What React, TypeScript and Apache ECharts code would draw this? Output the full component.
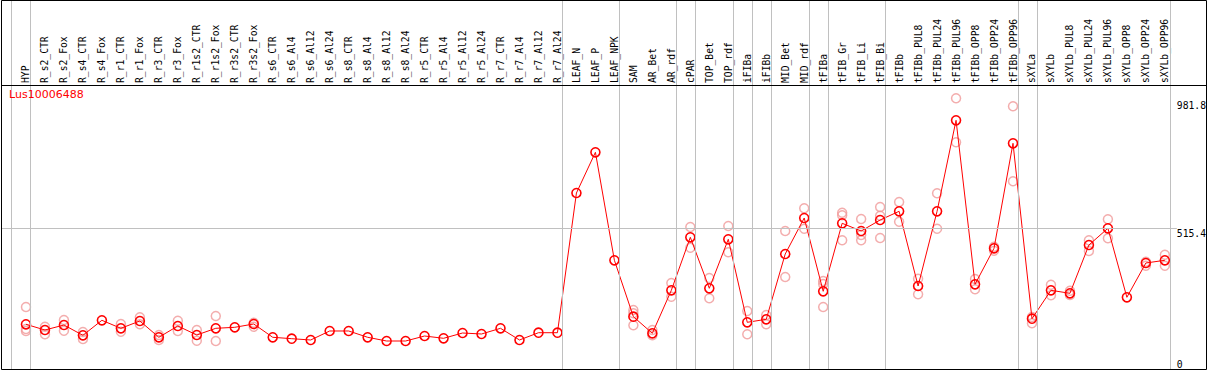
import React, { useEffect, useRef } from "react";
import * as echarts from "echarts";

const title = "Lus10006488";

const categories = [
  "HYP", "R_s2_CTR", "R_s2_Fox", "R_s4_CTR", "R_s4_Fox", "R_r1_CTR", "R_r1_Fox", "R_r3_CTR", "R_r3_Fox",
  "R_r1s2_CTR", "R_r1s2_Fox", "R_r3s2_CTR", "R_r3s2_Fox", "R_s6_CTR", "R_s6_Al4", "R_s6_Al12", "R_s6_Al24",
  "R_s8_CTR", "R_s8_Al4", "R_s8_Al12", "R_s8_Al24", "R_r5_CTR", "R_r5_Al4", "R_r5_Al12", "R_r5_Al24",
  "R_r7_CTR", "R_r7_Al4", "R_r7_Al12", "R_r7_Al24", "LEAF_N", "LEAF_P", "LEAF_NPK", "SAM", "AR_Bet", "AR_rdf",
  "cPAR", "TOP_Bet", "TOP_rdf", "iFIBa", "iFIBb", "MID_Bet", "MID_rdf", "tFIBa", "tFIB_Gr", "tFIB_Li", "tFIB_Bi",
  "tFIBb", "tFIBb_PUL8", "tFIBb_PUL24", "tFIBb_PUL96", "tFIBb_OPP8", "tFIBb_OPP24", "tFIBb_OPP96",
  "sXYLa", "sXYLb", "sXYLb_PUL8", "sXYLb_PUL24", "sXYLb_PUL96", "sXYLb_OPP8", "sXYLb_OPP24", "sXYLb_OPP96",
];

// number of categories in each separated group, left to right
const groupSizes = [1, 28, 3, 3, 1, 2, 1, 1, 2, 1, 3, 7, 1, 7];

const means = [
  163.7, 142.8, 161.1, 123.4, 178.3, 149.0, 175.8, 116.1, 157.5, 124.5, 149.0, 152.7, 164.8, 116.1, 111.0,
  106.2, 139.2, 139.2, 116.1, 102.5, 102.5, 120.8, 112.4, 131.8, 128.2, 149.0, 106.2, 132.9, 132.9,
  644.5, 793.6, 398.1, 191.5, 130.7, 288.2, 482.3, 295.5, 475.0, 171.0, 182.0, 421.1, 553.0, 284.5,
  533.6, 505.4, 545.6, 577.5, 303.9, 577.5, 910.7, 310.2, 442.0, 826.5, 184.2, 288.2, 277.2, 454.1,
  515.2, 262.6, 388.2, 398.1,
];

const replicates: number[][] = [
  [227.0, 146.5, 139.2], [154.9, 127.1], [179.4, 140.3], [135.5, 109.9], [], [164.8, 136.6], [189.3, 163.7],
  [124.5, 106.2], [176.9, 139.2], [142.8, 103.6], [194.1, 102.5], [], [169.6, 154.9],
  [], [], [], [], [], [], [], [], [], [], [], [], [], [], [], [],
  [], [], [], [216.1, 204.0, 160.0], [142.8, 123.4], [314.9, 264.8], [520.0, 444.2], [333.2, 258.9],
  [523.7, 427.4], [212.4, 127.1], [197.7, 163.7], [505.4, 336.9], [588.5, 513.8], [322.3, 311.3, 227.0],
  [572.4, 562.9, 471.3], [549.3, 490.7, 471.3], [593.2, 561.4, 479.7], [611.6, 539.4], [330.7, 273.6],
  [643.4, 513.8], [991.3, 830.2], [329.6, 291.9], [447.9, 433.2], [962.0, 687.4], [167.4, 190.4],
  [308.7, 269.9], [286.7, 271.0], [471.3, 432.1], [548.2, 478.6], [], [392.9, 378.3], [418.6, 378.3],
];

const yTickLabels = [0, 515.4, 981.8];
const refLine = 515.4;

export default function App() {
  const ref = useRef<HTMLDivElement>(null);

  useEffect(() => {
    document.body.style.margin = "0";
    if (!ref.current) return;
    const chart = echarts.init(ref.current, null, { renderer: "svg" });

    const W = 1209;
    const gridLeft = 1;
    const gridRight = 31;
    const step = 19;
    const firstCenter = 26;
    const xMin = (gridLeft - firstCenter) / step;
    const xMax = xMin + (W - gridLeft - gridRight) / step;
    const sepOffset = 4.5 / step;

    const boundaries: number[] = [-1];
    let acc = -1;
    groupSizes.forEach((s) => {
      acc += s;
      boundaries.push(acc);
    });

    const mono = "DejaVu Sans Mono";
    const repData: number[][] = [];
    replicates.forEach((arr, i) => arr.forEach((v) => repData.push([i, v])));

    chart.setOption({
      animation: false,
      backgroundColor: "#ffffff",
      grid: [
        { left: gridLeft, right: gridRight, top: 85, bottom: 1, containLabel: false },
        { left: gridLeft, right: gridRight, top: 0, bottom: 1, containLabel: false },
      ],
      xAxis: [
        {
          type: "value",
          gridIndex: 0,
          position: "top",
          min: xMin,
          max: xMax,
          axisLine: { show: false },
          axisTick: { show: false },
          splitLine: { show: false },
          axisLabel: {
            customValues: categories.map((_, i) => i),
            formatter: (v: number) => categories[Math.round(v)] ?? "",
            rotate: 90,
            margin: 2,
            padding: [0, 0, 5, 0],
            fontFamily: mono,
            fontSize: 9.7,
            color: "#000",
          },
        },
        {
          type: "value",
          gridIndex: 1,
          min: xMin,
          max: xMax,
          show: false,
        },
      ],
      yAxis: [
        {
          type: "value",
          gridIndex: 0,
          position: "right",
          min: 0,
          max: 1040,
          axisLine: { show: false },
          axisTick: { show: false },
          splitLine: { show: false },
          axisLabel: {
            customValues: yTickLabels.slice(1),
            margin: 0,
            verticalAlign: "top",
            fontFamily: mono,
            fontSize: 9.7,
            color: "#000",
            formatter: (v: number) => String(v),
          },
        },
        {
          type: "value",
          gridIndex: 0,
          position: "right",
          min: 0,
          max: 1040,
          axisLine: { show: false },
          axisTick: { show: false },
          splitLine: { show: false },
          axisLabel: {
            customValues: yTickLabels.slice(0, 1),
            margin: 0,
            verticalAlign: "bottom",
            fontFamily: mono,
            fontSize: 9.7,
            color: "#000",
            formatter: (v: number) => String(v),
          },
        },
        { type: "value", gridIndex: 1, min: 0, max: 1, show: false },
      ],
      graphic: [
        {
          type: "rect",
          shape: { x: 1.5, y: 0.5, width: 1205, height: 369 },
          style: { fill: "none", stroke: "#000", lineWidth: 1 },
          z: 10,
          silent: true,
        },
        {
          type: "line",
          shape: { x1: 1, y1: 85.5, x2: 1207, y2: 85.5 },
          style: { stroke: "#000", lineWidth: 1 },
          z: 10,
          silent: true,
        },
        {
          type: "text",
          left: 9,
          top: 89,
          style: { text: title, fill: "#ff0000", font: "11px 'DejaVu Sans'" },
          z: 10,
          silent: true,
        },
      ],
      series: [
        {
          type: "scatter",
          xAxisIndex: 1,
          yAxisIndex: 2,
          data: [[0, -10]],
          symbolSize: 0,
          silent: true,
          z: 1,
          markLine: {
            silent: true,
            symbol: "none",
            label: { show: false },
            lineStyle: { color: "#c0c0c0", width: 1, type: "solid" },
            data: boundaries.map((b) => ({ xAxis: b + sepOffset })),
          },
        },
        {
          type: "scatter",
          xAxisIndex: 0,
          yAxisIndex: 0,
          data: repData,
          symbol: "circle",
          symbolSize: 9,
          itemStyle: { color: "rgba(0,0,0,0)", borderColor: "#f09898", borderWidth: 1.5 },
          z: 2,
          silent: true,
        },
        {
          type: "line",
          xAxisIndex: 0,
          yAxisIndex: 0,
          data: means.map((v, i) => [i, v]),
          symbol: "circle",
          symbolSize: 9,
          showSymbol: true,
          lineStyle: { color: "#ff0000", width: 1 },
          itemStyle: { color: "rgba(0,0,0,0)", borderColor: "#ff0000", borderWidth: 1.6 },
          z: 3,
          silent: true,
          markLine: {
            silent: true,
            symbol: "none",
            label: { show: false },
            lineStyle: { color: "#c0c0c0", width: 1, type: "solid" },
            data: [{ yAxis: refLine }],
          },
        },
      ],
    });

    return () => chart.dispose();
  }, []);

  return <div ref={ref} style={{ width: 1209, height: 370 }} />;
}
